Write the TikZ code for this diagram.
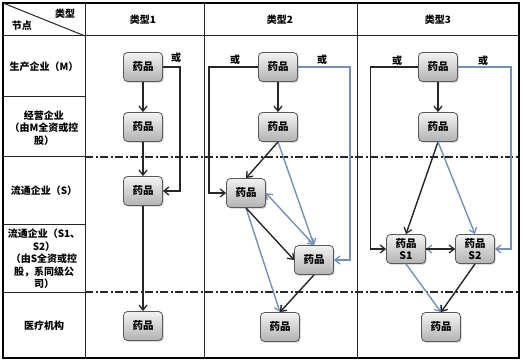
\documentclass[tikz,border=0pt]{standalone}
\usepackage{fontspec}
\setmainfont{Noto Sans CJK SC}
\usetikzlibrary{arrows.meta,shadows,calc}
\definecolor{bl}{RGB}{115,145,185}
\tikzset{
 drug/.style={draw=black!65, line width=0.8pt, rounded corners=4pt, top color=black!5, bottom color=black!30,
   minimum width=39pt, minimum height=29pt, inner sep=0pt, align=center,
   font=\fontsize{10.5}{12}\selectfont\bfseries,
   drop shadow={shadow xshift=1.2pt, shadow yshift=-1.2pt, opacity=0.35, fill=black!60}},
 lab/.style={font=\fontsize{10}{12.5}\selectfont\bfseries, align=center, inner sep=0pt},
 tip/.tip={Straight Barb[length=5pt,width=8pt,line width=1.3pt]},
 ka/.style={line width=1.4pt, draw=black!85, -tip},
 ba/.style={ka, draw=bl},
 dd/.style={line width=1.3pt, draw=black!85, dash pattern=on 8pt off 2.5pt on 2pt off 2.5pt},
 gridline/.style={line width=1pt, draw=black!85},
}
\begin{document}
\begin{tikzpicture}[x=1pt,y=-1pt]
\useasboundingbox (0,0) rectangle (524,363);
\fill[white] (0,0) rectangle (524,363);
% table
\draw[line width=1.4pt] (3,3) rectangle (519,358);
\draw[gridline] (3,36) -- (519,36);
\draw[gridline] (85,3) -- (85,358) (204,3) -- (204,358) (357,3) -- (357,358);
\draw[gridline] (3,97) -- (85,97) (3,157) -- (85,157) (3,225) -- (85,225) (3,292) -- (85,292);
\draw[gridline] (3,3) -- (85,36);
\draw[dd] (85,157) -- (519,157) (85,292) -- (519,292);
% headers
\node[lab] (h0a) at (65,14) {类型};
\node[lab] (h0b) at (22,26) {节点};
\node[lab] (h1) at (143,20) {类型1};
\node[lab] (h2) at (280,20) {类型2};
\node[lab] (h3) at (438,20) {类型3};
% row labels
\node[lab] (r1) at (44,67) {生产企业（M）};
\node[lab] (r2) at (44,128) {经营企业\\（由M全资或控\\股）};
\node[lab] (r3) at (44,191) {流通企业（S）};
\node[lab] (r4) at (44,259) {流通企业（S1、\\S2）\\（由S全资或控\\股，系同级公\\司）};
\node[lab] (r5) at (44,326) {医疗机构};
% type 1
\node[drug] (a1) at (143,67) {药品};
\node[drug] (a2) at (143,127) {药品};
\node[drug] (a3) at (143,191) {药品};
\node[drug] (a4) at (143,326) {药品};
\draw[ka] (a1) -- (a2);
\draw[ka] (a2) -- (a3);
\draw[ka] (a3) -- (a4);
\draw[ka] (a1.east) -- ++(17,0) |- (a3.east);
\node[lab] (o1) at (176,58) {或};
% type 2
\node[drug] (b1) at (278,67) {药品};
\node[drug] (b2) at (278,127) {药品};
\node[drug] (b3) at (246,193) {药品};
\node[drug] (b4) at (314,260) {药品};
\node[drug] (b5) at (280,327) {药品};
\draw[ka] (b1) -- (b2);
\draw[ka] (b1.west) -- ++(-49,0) |- (b3.west);
\draw[ba] (b1.east) -- ++(52,0) |- (b4.east);
\draw[ba] (b2.south) -- (b4.north);
\draw[ka] (b2.south) -- (b3.north);
\draw[ba, tip-tip] (b3.east) -- (b4.north);
\draw[ba] (b3.south) -- (b5.north);
\draw[ka] (b3.south) -- (b4.west);
\draw[ka] (b4.south) -- (b5.north);
\node[lab] (o2) at (235,60) {或};
\node[lab] (o3) at (322,60) {或};
% type 3
\node[drug] (c1) at (438,67) {药品};
\node[drug] (c2) at (438,127) {药品};
\node[drug] (s1) at (406,249) {药品\\S1};
\node[drug] (s2) at (475,249) {药品\\S2};
\node[drug] (c5) at (441,327) {药品};
\draw[ka] (c1) -- (c2);
\draw[ka] (c1.west) -- ++(-47.5,0) |- (s1.west);
\draw[ba] (c1.east) -- ++(53,0) |- (s2.east);
\draw[ka] (c2.south) -- (s1.north);
\draw[ba] (c2.south) -- (s2.north);
\draw[ba] (s2.west) -- (s1.east);
\draw[ka] (s1.east) -- (s2.west);
\draw[ba] (s1.south) -- (c5.north);
\draw[ka] (s2.south) -- (c5.north);
\node[lab] (o4) at (397,61) {或};
\node[lab] (o5) at (483,61) {或};
\end{tikzpicture}
\end{document}
